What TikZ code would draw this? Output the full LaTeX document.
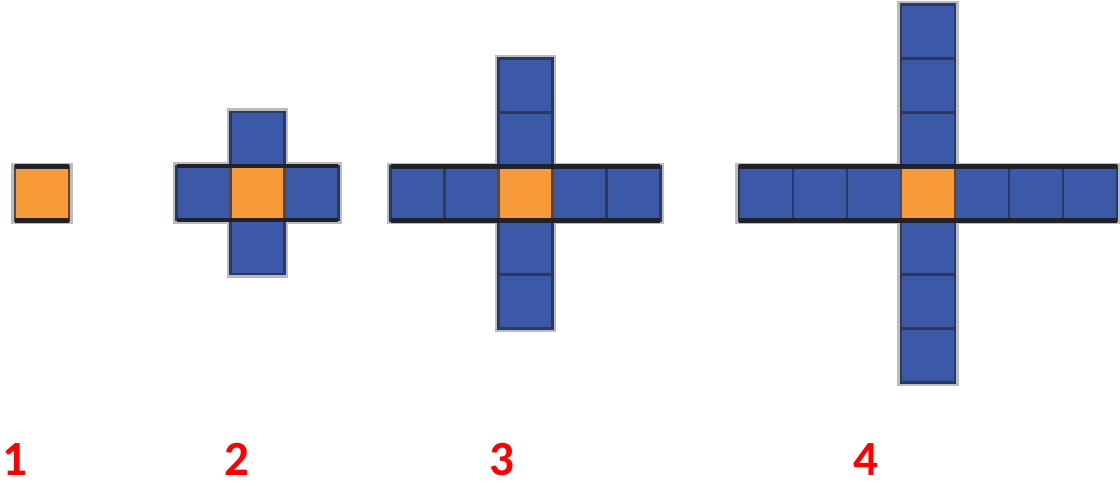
\documentclass[tikz,border=0pt]{standalone}
\usepackage{fontspec}
\setmainfont{Carlito}
\usetikzlibrary{positioning,fit,backgrounds}
\definecolor{cellblue}{RGB}{59,89,167}
\definecolor{cellorange}{RGB}{247,154,58}
\definecolor{gridline}{RGB}{44,56,100}
\definecolor{rimdark}{RGB}{35,34,42}
\definecolor{corerim}{RGB}{96,70,48}
\definecolor{halogray}{RGB}{188,188,188}
\tikzset{
  cell/.style={rectangle, minimum size=1.08cm, inner sep=0pt, outer sep=0pt,
    draw=gridline, line width=1.6pt},
  bluecell/.style={cell, fill=cellblue},
  centercell/.style={cell, fill=cellorange},
  coreedge/.style={draw=corerim, line width=1.6pt},
  halo/.style={draw=halogray, line width=4.5pt, inner sep=0pt},
  rim/.style={draw=rimdark, line width=2.4pt},
  steplabel/.style={text=red, font=\bfseries\fontsize{28}{30}\selectfont,
    inner sep=0pt, anchor=base},
}

\begin{document}
\begin{tikzpicture}[x=0.02cm,y=-0.02cm]
\useasboundingbox (0,0) rectangle (1120,486);

% step 1
\node[centercell] (a0) at (42,193.5) {};

% step 2
\node[centercell] (b0) at (257.5,193) {};
\node[bluecell, left=0pt of b0] (bl1) {};
\node[bluecell, right=0pt of b0] (br1) {};
\node[bluecell, above=0pt of b0] (bu1) {};
\node[bluecell, below=0pt of b0] (bd1) {};

% step 3
\node[centercell] (c0) at (525.5,193.5) {};
\node[bluecell, left=0pt of c0] (cl1) {};
\node[bluecell, left=0pt of cl1] (cl2) {};
\node[bluecell, right=0pt of c0] (cr1) {};
\node[bluecell, right=0pt of cr1] (cr2) {};
\node[bluecell, above=0pt of c0] (cu1) {};
\node[bluecell, above=0pt of cu1] (cu2) {};
\node[bluecell, below=0pt of c0] (cd1) {};
\node[bluecell, below=0pt of cd1] (cd2) {};

% step 4
\node[centercell] (d0) at (928,193.5) {};
\node[bluecell, left=0pt of d0] (dl1) {};
\node[bluecell, left=0pt of dl1] (dl2) {};
\node[bluecell, left=0pt of dl2] (dl3) {};
\node[bluecell, right=0pt of d0] (dr1) {};
\node[bluecell, right=0pt of dr1] (dr2) {};
\node[bluecell, right=0pt of dr2] (dr3) {};
\node[bluecell, above=0pt of d0] (du1) {};
\node[bluecell, above=0pt of du1] (du2) {};
\node[bluecell, above=0pt of du2] (du3) {};
\node[bluecell, below=0pt of d0] (dd1) {};
\node[bluecell, below=0pt of dd1] (dd2) {};
\node[bluecell, below=0pt of dd2] (dd3) {};

% grey fringe behind the arms
\begin{scope}[on background layer]
  \node[halo, fit=(a0)] (ha) {};
  \node[halo, fit=(bu1)(bd1)] (hbv) {};
  \node[halo, fit=(bl1)(br1)] (hbh) {};
  \node[halo, fit=(cu2)(cd2)] (hcv) {};
  \node[halo, fit=(cl2)(cr2)] (hch) {};
  \node[halo, fit=(du3)(dd3)] (hdv) {};
  \node[halo, fit=(dl3)(dr3)] (hdh) {};
\end{scope}

% orange centres on top
\foreach \c in {a0,b0,c0,d0}
  \draw[coreedge] (\c.south west) rectangle (\c.north east);

% dark rims along the rows
\draw[rim] (a0.north west) -- (a0.north east);
\draw[rim] (a0.south west) -- (a0.south east);
\draw[rim] (bl1.north west) -- (br1.north east);
\draw[rim] (bl1.south west) -- (br1.south east);
\draw[rim] (cl2.north west) -- (cr2.north east);
\draw[rim] (cl2.south west) -- (cr2.south east);
\draw[rim] (dl3.north west) -- (dr3.north east);
\draw[rim] (dl3.south west) -- (dr3.south east);

% step numbers
\node[steplabel] (n1) at (15,476) {1};
\node[steplabel] (n2) at (237,476) {2};
\node[steplabel] (n3) at (501.5,476) {3};
\node[steplabel] (n4) at (866,476) {4};

\end{tikzpicture}
\end{document}
